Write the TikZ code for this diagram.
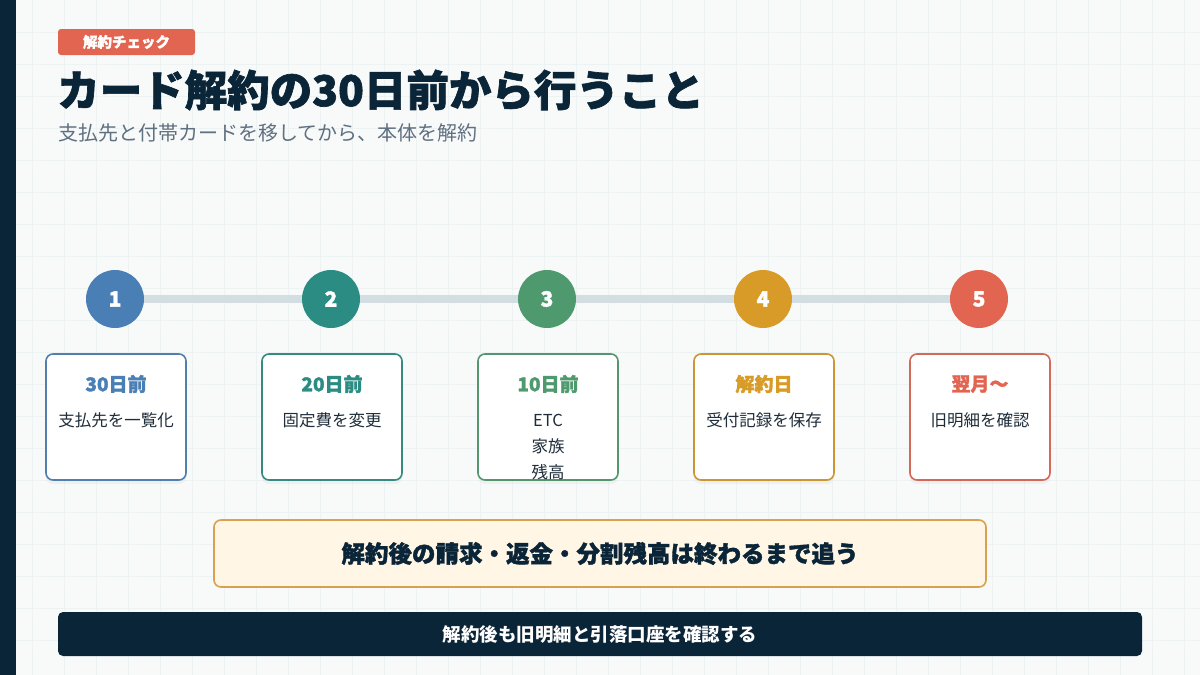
\documentclass[tikz,border=0pt]{standalone}
\usepackage{fontspec}
\setmainfont{Noto Sans CJK JP}
\newfontfamily\heavyjp{Noto Sans CJK JP}[BoldFeatures={FakeBold=1.6}]
\usetikzlibrary{shadows}
\definecolor{navy}{HTML}{0B2538}
\definecolor{paper}{HTML}{F8FAFA}
\definecolor{gridc}{HTML}{EDF2F3}
\definecolor{railc}{HTML}{D3DEE3}
\definecolor{subc}{HTML}{5F7080}
\definecolor{bodyc}{HTML}{1F2D3A}
\definecolor{stepA}{HTML}{4A7FB5}
\definecolor{stepB}{HTML}{2A8C82}
\definecolor{stepC}{HTML}{4E9A6E}
\definecolor{stepD}{HTML}{D89B27}
\definecolor{stepE}{HTML}{E26552}
\definecolor{noteFill}{HTML}{FFF6E5}
\definecolor{noteLine}{HTML}{D9A050}
\tikzset{
  dot/.style={circle,fill=#1,minimum size=58pt,inner sep=0pt,text=white,font=\heavyjp\bfseries\fontsize{21}{21}\selectfont},
  card/.style={draw=#1!85!gray,line width=1.6pt,fill=white,rounded corners=7pt,minimum width=140pt,minimum height=126pt,
    drop shadow={opacity=0.07,shadow xshift=0pt,shadow yshift=-4pt}},
  cardhead/.style={text=#1,font=\heavyjp\bfseries\fontsize{19}{19}\selectfont},
  cardbody/.style={text=bodyc,font=\fontsize{16.5}{26}\selectfont,align=center}
}
\begin{document}
\begin{tikzpicture}[x=1pt,y=-1pt]
% background and grid
\fill[paper] (0,0) rectangle (1200,675);
\useasboundingbox (0,0) rectangle (1200,675);
\foreach \gx in {32,64,...,1190} \draw[gridc,line width=0.8pt] (\gx,0) -- (\gx,675);
\foreach \gy in {32,64,...,670} \draw[gridc,line width=0.8pt] (0,\gy) -- (1200,\gy);
\fill[navy] (0,0) rectangle (16,675);
% header
\node[fill=stepE,rounded corners=3pt,minimum width=137pt,minimum height=26pt,text=white,font=\heavyjp\bfseries\fontsize{14.5}{14.5}\selectfont] (tag) at (126.5,42) {解約チェック};
\node[anchor=west,text=navy,font=\heavyjp\bfseries\fontsize{42.5}{42.5}\selectfont,inner sep=0pt] (title) at (57,90) {カード解約の30日前から行うこと};
\node[anchor=west,text=subc,font=\fontsize{20}{20}\selectfont,inner sep=0pt] (subtitle) at (58,133) {支払先と付帯カードを移してから、本体を解約};
% timeline
\node[dot=stepA] (c1) at (115,299) {1};
\node[dot=stepB] (c2) at (331,299) {2};
\node[dot=stepC] (c3) at (547,299) {3};
\node[dot=stepD] (c4) at (763,299) {4};
\node[dot=stepE] (c5) at (979,299) {5};
\foreach \a/\b in {c1/c2,c2/c3,c3/c4,c4/c5} \draw[railc,line width=8pt] (\a) -- (\b);
% cards
\node[card=stepA] (card1) at (116,417) {};
\node[card=stepB] (card2) at (332,417) {};
\node[card=stepC] (card3) at (548,417) {};
\node[card=stepD] (card4) at (764,417) {};
\node[card=stepE] (card5) at (980,417) {};
\node[cardhead=stepA] (h1) at (116,384) {30日前};
\node[cardhead=stepB] (h2) at (332,384) {20日前};
\node[cardhead=stepC] (h3) at (548,384) {10日前};
\node[cardhead=stepD] (h4) at (764,384) {解約日};
\node[cardhead=stepE] (h5) at (980,384) {翌月〜};
\node[cardbody] (b1) at (116,420) {支払先を一覧化};
\node[cardbody] (b2) at (332,420) {固定費を変更};
\node[cardbody,anchor=north] (b3) at (548,411) {ETC\\家族\\残高};
\node[cardbody] (b4) at (764,420) {受付記録を保存};
\node[cardbody] (b5) at (980,420) {旧明細を確認};
% notes
\node[draw=noteLine,fill=noteFill,line width=1.6pt,rounded corners=7pt,minimum width=772pt,minimum height=67pt,text=navy,font=\heavyjp\bfseries\fontsize{23.5}{23.5}\selectfont] (warn) at (600,553.5) {解約後の請求・返金・分割残高は終わるまで追う};
\node[fill=navy,rounded corners=5pt,minimum width=1084pt,minimum height=44pt,text=white,font=\bfseries\fontsize{18.5}{18.5}\selectfont] (footer) at (600,634) {解約後も旧明細と引落口座を確認する};
\end{tikzpicture}
\end{document}
